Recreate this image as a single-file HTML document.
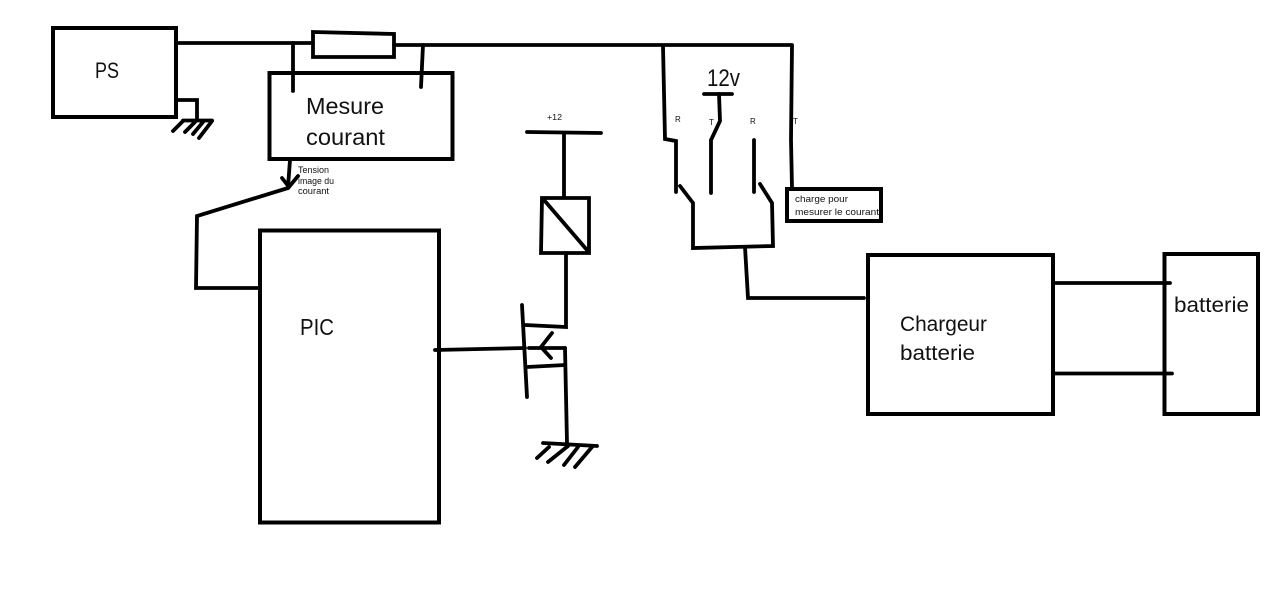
<!DOCTYPE html>
<html>
<head>
<meta charset="utf-8">
<style>
html,body{margin:0;padding:0;background:#fff;width:1280px;height:605px;overflow:hidden}
svg{display:block}
text{font-family:"Liberation Sans",sans-serif;fill:#111}
.l{fill:none;stroke:#000;stroke-width:3.8;stroke-linejoin:miter;stroke-linecap:round}
.b{fill:none;stroke:#000;stroke-width:4;stroke-linejoin:miter}
</style>
</head>
<body>
<svg width="1280" height="605" viewBox="0 0 1280 605" xmlns="http://www.w3.org/2000/svg">
<rect width="1280" height="605" fill="#fff"/>

<!-- boxes -->
<rect class="b" x="53" y="28" width="123" height="89"/>
<rect class="b" x="269.500" y="73" width="183" height="86"/>
<rect class="b" x="260" y="230.500" width="179" height="292"/>
<rect class="b" x="868" y="255" width="185" height="159"/>
<rect class="b" x="1164.500" y="254" width="93.500" height="160"/>
<rect x="787" y="189" width="94" height="32" fill="none" stroke="#000" stroke-width="4"/>

<!-- top rail, shunt resistor, taps -->
<path class="l" d="M176 43H313"/>
<path class="l" d="M313 32L394 34V57H313Z"/>
<path class="l" d="M394 45H792"/>
<path class="l" d="M293 43V91"/>
<path class="l" d="M423 45L421 87"/>

<!-- PS ground -->
<path class="l" d="M176 100H197V120"/>
<path class="l" d="M183 120.500H212"/>
<path class="l" d="M173 131L183 121M185 132L195 122M193 134L203 122M199 138L212 121"/>

<!-- measurement output -->
<path class="l" d="M290 160L288 187"/>
<path class="l" d="M282 178L289 187L298 176"/>
<path class="l" d="M288 188L197 216L196 288H260"/>

<!-- relay contacts -->
<path class="l" d="M663 46L665 139L676 141V192"/>
<path class="l" d="M680 186L693 203V248L773 246L772 203L760 184"/>
<path class="l" d="M754 140V192"/>
<path class="l" d="M704 94H732"/>
<path class="l" d="M719 94L720 121L711 140V193"/>
<path class="l" d="M792 46L791 140L792 188"/>
<path class="l" d="M745 247L748 298H864"/>

<!-- +12 and coil -->
<path class="l" d="M527 132L601 133"/>
<path class="l" d="M564 133V197"/>
<path class="l" d="M542 198H589V253H541Z"/>
<path class="l" d="M544 200L587 250"/>
<path class="l" d="M566 253V327L525 325"/>

<!-- MOSFET -->
<path class="l" d="M522 305L527 397"/>
<path class="l" d="M435 350L525 348"/>
<path class="l" d="M529 348H565"/>
<path class="l" d="M552 333L541 347L551 358"/>
<path class="l" d="M527 367L565 365"/>
<path class="l" d="M565 348L567 443"/>

<!-- MOSFET ground -->
<path class="l" d="M543 443L597 446"/>
<path class="l" d="M549 447L537 458M568 446L548 462M578 447L564 465M592 447L575 467"/>

<!-- charger to battery -->
<path class="l" d="M1053 283H1170"/>
<path class="l" d="M1053 373.500H1172"/>

<!-- labels -->
<text x="95" y="78" font-size="22" textLength="24" lengthAdjust="spacingAndGlyphs">PS</text>
<text x="306" y="114" font-size="23" textLength="78" lengthAdjust="spacingAndGlyphs">Mesure</text>
<text x="306" y="145" font-size="23" textLength="79" lengthAdjust="spacingAndGlyphs">courant</text>
<text x="298" y="173" font-size="9" textLength="31" lengthAdjust="spacingAndGlyphs">Tension</text>
<text x="298" y="184" font-size="9" textLength="36" lengthAdjust="spacingAndGlyphs">image du</text>
<text x="298" y="194" font-size="9" textLength="31" lengthAdjust="spacingAndGlyphs">courant</text>
<text x="300" y="335" font-size="23" textLength="34" lengthAdjust="spacingAndGlyphs">PIC</text>
<text x="547" y="120" font-size="8" textLength="15" lengthAdjust="spacingAndGlyphs">+12</text>
<text x="707" y="86" font-size="24" textLength="33" lengthAdjust="spacingAndGlyphs">12v</text>
<text x="675" y="122" font-size="8" fill="#333">R</text>
<text x="709" y="125" font-size="8" fill="#333">T</text>
<text x="750" y="124" font-size="8" fill="#333">R</text>
<text x="793" y="124" font-size="8" fill="#333">T</text>
<text x="795" y="202" font-size="9.500" textLength="53" lengthAdjust="spacingAndGlyphs">charge pour</text>
<text x="795" y="215" font-size="9.500" textLength="84" lengthAdjust="spacingAndGlyphs">mesurer le courant</text>
<text x="900" y="331" font-size="21" textLength="87" lengthAdjust="spacingAndGlyphs">Chargeur</text>
<text x="900" y="360" font-size="21" textLength="75" lengthAdjust="spacingAndGlyphs">batterie</text>
<text x="1174" y="312" font-size="21" textLength="75" lengthAdjust="spacingAndGlyphs">batterie</text>
</svg>
</body>
</html>
